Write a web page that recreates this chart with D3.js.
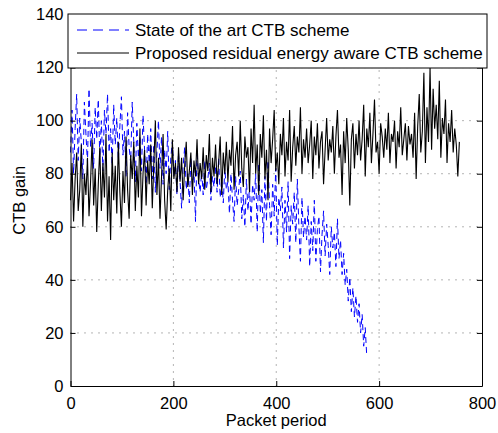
<!DOCTYPE html>
<html>
<head>
<meta charset="utf-8">
<script src="https://cdnjs.cloudflare.com/ajax/libs/d3/7.8.5/d3.min.js"></script>
<style>
  body { margin: 0; background: #fff; }
  text { font-family: "Liberation Sans", Arial, sans-serif; fill: #000; }
</style>
</head>
<body>
<div class="chart"></div>
<script>
var svgWidth = 498;
var svgHeight = 433;

var margin = { top: 14.5, right: 16, bottom: 47, left: 70.5 };
var width = svgWidth - margin.left - margin.right;
var height = svgHeight - margin.top - margin.bottom;

// packet period step between samples
var step = 3;

var seriesNames = ["State of the art CTB scheme", "Proposed residual energy aware CTB scheme"];
var xTicks = [0, 200, 400, 600, 800];
var yTicks = [0, 20, 40, 60, 80, 100, 120, 140];

// proposed scheme, packet 0 .. 756
var proposed = [
  70,84,62,78,88,66,74,91,60,80,72,86,64,77,93,68,82,
  58,76,90,66,84,71,95,62,79,55,88,70,83,65,92,73,60,
  81,69,94,74,63,87,78,92,66,83,71,97,64,80,89,68,85,
  76,91,67,84,100,72,86,63,79,95,70,59,74,82,66,93,78,
  84,73,90,77,86,70,83,92,75,81,88,72,85,79,93,76,84,
  78,90,74,87,81,95,73,86,79,91,76,84,94,72,88,80,92,
  77,89,83,98,74,87,92,79,100,82,75,94,86,90,73,97,84,
  106,80,91,72,95,86,102,78,89,70,97,84,93,104,81,88,76,
  95,87,101,79,92,85,104,77,90,98,83,94,88,105,80,93,86,
  97,84,91,100,78,94,87,99,82,92,96,76,89,101,85,93,88,
  98,80,94,104,86,91,72,96,84,101,89,68,93,99,82,95,87,
  100,85,93,106,79,97,90,103,84,95,108,88,92,80,99,94,86,
  97,89,103,84,95,92,100,82,96,90,105,87,93,99,85,98,91,
  95,86,103,78,98,110,88,96,118,84,105,92,120,89,112,97,106,
  93,115,86,101,95,108,84,99,92,104,88,97,91,79,92
];

// state of the art scheme, packet 0 .. 576
var stateOfArt = [
  88,104,80,97,110,85,101,92,78,107,95,84,112,90,99,82,105,
  93,108,86,100,81,104,95,110,88,97,83,106,91,101,85,98,109,
  87,96,79,103,90,84,107,92,77,99,86,94,81,102,89,76,95,
  84,97,78,91,73,88,100,82,94,76,89,80,96,74,86,92,79,
  85,72,88,77,67,83,90,74,80,69,86,76,82,62,89,78,73,
  81,72,85,74,78,84,70,79,75,83,73,86,71,78,69,82,74,
  77,65,80,70,62,79,68,74,81,63,72,60,78,66,75,61,76,
  70,80,58,84,65,74,54,79,62,85,68,57,76,64,82,53,71,
  66,75,52,70,58,77,48,68,61,73,54,78,60,47,71,56,64,
  55,68,45,62,51,70,47,59,64,43,57,66,49,61,53,42,60,
  52,58,45,63,48,55,42,50,38,44,32,41,28,37,26,34,24,
  31,20,27,15,22,11
];

var svg = d3.select(".chart")
  .append("svg")
  .attr("width", svgWidth)
  .attr("height", svgHeight);

var chartGroup = svg.append("g")
  .attr("transform", `translate(${margin.left}, ${margin.top})`);

var xScale = d3.scaleLinear().domain([0, 800]).range([0, width]);
var yScale = d3.scaleLinear().domain([0, 140]).range([height, 0]);

// dotted grid
chartGroup.append("g")
  .selectAll("line")
  .data(xTicks.slice(1, -1))
  .enter()
  .append("line")
  .attr("x1", d => xScale(d)).attr("x2", d => xScale(d))
  .attr("y1", 0).attr("y2", height)
  .attr("stroke", "#444").attr("stroke-width", 0.8)
  .attr("stroke-dasharray", "1,6");

chartGroup.append("g")
  .selectAll("line")
  .data(yTicks.slice(1, -1))
  .enter()
  .append("line")
  .attr("y1", d => yScale(d)).attr("y2", d => yScale(d))
  .attr("x1", 0).attr("x2", width)
  .attr("stroke", "#444").attr("stroke-width", 0.8)
  .attr("stroke-dasharray", "1,6");

var line = d3.line()
  .x((d, i) => xScale(i * step))
  .y(d => yScale(d));

chartGroup.append("path")
  .datum(stateOfArt)
  .attr("d", line)
  .attr("fill", "none")
  .attr("stroke", "#0000ff")
  .attr("stroke-width", 1)
  .attr("stroke-dasharray", "6,4");

chartGroup.append("path")
  .datum(proposed)
  .attr("d", line)
  .attr("fill", "none")
  .attr("stroke", "#000")
  .attr("stroke-width", 1.1);

// axes with inward ticks on all four sides
function styleAxis(g) {
  g.select(".domain").attr("stroke", "#000").attr("stroke-width", 1);
  g.selectAll(".tick line").attr("stroke", "#000");
  g.selectAll(".tick text")
    .style("font-family", "Liberation Sans, Arial, sans-serif")
    .style("font-size", "16.5px");
}

chartGroup.append("g")
  .attr("transform", `translate(0, ${height})`)
  .call(d3.axisBottom(xScale).tickValues(xTicks).tickSize(-5).tickPadding(11).tickSizeOuter(0))
  .call(styleAxis);

chartGroup.append("g")
  .call(d3.axisLeft(yScale).tickValues(yTicks).tickSize(-5).tickPadding(7).tickSizeOuter(0))
  .call(styleAxis);

chartGroup.append("g")
  .call(d3.axisTop(xScale).tickValues(xTicks).tickSize(-5).tickFormat("").tickSizeOuter(0))
  .call(styleAxis);

chartGroup.append("g")
  .attr("transform", `translate(${width}, 0)`)
  .call(d3.axisRight(yScale).tickValues(yTicks).tickSize(-5).tickFormat("").tickSizeOuter(0))
  .call(styleAxis);

// axis labels
chartGroup.append("text")
  .attr("x", width / 2)
  .attr("y", height + 40)
  .attr("text-anchor", "middle")
  .style("font-size", "16.5px")
  .text("Packet period");

chartGroup.append("text")
  .attr("transform", "rotate(-90)")
  .attr("x", -height / 2)
  .attr("y", 25 - margin.left)
  .attr("text-anchor", "middle")
  .style("font-size", "16.5px")
  .text("CTB gain");

// legend
var legend = svg.append("g").attr("transform", "translate(68, 14)");

legend.append("rect")
  .attr("width", 419)
  .attr("height", 54)
  .attr("fill", "#fff")
  .attr("stroke", "#000")
  .attr("stroke-width", 1);

var legendStyles = [
  { color: "#0000ff", dash: "10,6" },
  { color: "#000", dash: null }
];

var legendRows = legend.selectAll(".legendRow")
  .data(seriesNames)
  .enter()
  .append("g")
  .attr("class", "legendRow")
  .attr("transform", (d, i) => `translate(0, ${16 + i * 23})`);

legendRows.append("line")
  .attr("x1", 9).attr("x2", 61)
  .attr("y1", 0).attr("y2", 0)
  .attr("stroke", (d, i) => legendStyles[i].color)
  .attr("stroke-width", 1)
  .attr("stroke-dasharray", (d, i) => legendStyles[i].dash);

legendRows.append("text")
  .attr("x", 67)
  .attr("y", 6)
  .style("font-size", "17px")
  .text(d => d);
</script>
</body>
</html>
